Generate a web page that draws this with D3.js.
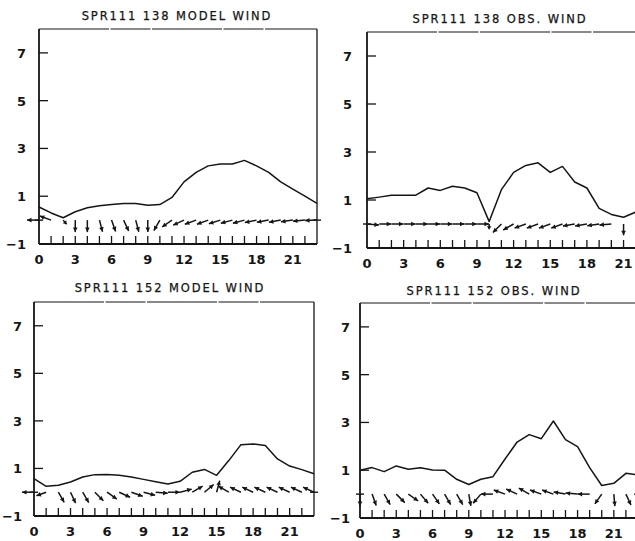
<!DOCTYPE html>
<html>
<head>
<meta charset="utf-8">
<script src="https://cdn.jsdelivr.net/npm/d3@7"></script>
<style>
body { margin: 0; background: #fff; }
text { font-family: "DejaVu Sans", sans-serif; fill: #151515; }
.lbl { font-weight: bold; }
.ttl { font-weight: normal; stroke: #151515; stroke-width: 0.25; }
</style>
</head>
<body>
<svg width="635" height="541"></svg>
<script>
// hourly series, 0..23
var hours = [0,1,2,3,4,5,6,7,8,9,10,11,12,13,14,15,16,17,18,19,20,21,22,23];
var xTicks = [0,3,6,9,12,15,18,21];
var yTicks = [7,5,3,1,-1];
var titles = ["SPR111 138 MODEL WIND", "SPR111 138 OBS. WIND", "SPR111 152 MODEL WIND", "SPR111 152 OBS. WIND"];

// wind speed
var spd138Model = [0.55,0.3,0.1,0.35,0.52,0.6,0.65,0.7,0.7,0.62,0.65,0.95,1.6,2.0,2.27,2.35,2.35,2.5,2.27,2.0,1.6,1.3,1.0,0.7];
var spd138Obs   = [1.05,1.12,1.2,1.2,1.2,1.5,1.4,1.57,1.5,1.3,0.1,1.43,2.15,2.44,2.55,2.15,2.4,1.75,1.5,0.65,0.4,0.28,0.5,0.6];
var spd152Model = [0.57,0.25,0.29,0.43,0.64,0.74,0.75,0.71,0.64,0.54,0.44,0.35,0.46,0.84,0.96,0.71,1.33,2.0,2.03,1.96,1.4,1.1,0.95,0.78];
var spd152Obs   = [1.0,1.11,0.94,1.18,1.04,1.1,1.01,1.0,0.62,0.4,0.62,0.73,1.47,2.18,2.49,2.32,3.06,2.28,1.99,1.11,0.36,0.45,0.87,0.8];

// direction the wind vector points to, degrees clockwise from north
var dir138Model = [270,290,140,180,180,165,160,155,165,180,210,235,245,250,250,252,255,255,258,260,260,262,265,268];
var dir138Obs   = [95,90,90,90,90,90,90,90,90,90,180,225,240,250,250,250,250,260,260,262,265,180,145,150];
var dir152Model = [270,250,150,155,150,135,125,115,110,105,95,90,75,60,50,15,300,295,295,295,295,295,295,295];
var dir152Obs   = [180,160,150,135,125,140,145,150,150,170,220,270,290,295,300,290,290,280,275,270,215,175,155,150];

var panels = [
  {title: titles[0], spd: spd138Model, dir: dir138Model, left: 39,  right: 317, top: 29,  bottom: 244, titleX: 177, titleY: 20,  gap: 13},
  {title: titles[1], spd: spd138Obs,   dir: dir138Obs,   left: 367, right: 648, top: 32,  bottom: 248, titleX: 500, titleY: 23,  gap: 15},
  {title: titles[2], spd: spd152Model, dir: dir152Model, left: 34,  right: 314, top: 302, bottom: 516, titleX: 170, titleY: 292, gap: 12},
  {title: titles[3], spd: spd152Obs,   dir: dir152Obs,   left: 360, right: 638, top: 303, bottom: 518, titleX: 494, titleY: 295, gap: 10}
];

var svg = d3.select('svg');
var ink = '#151515';

var arrowLen = d3.scaleLinear().domain([0, 0.3]).range([2, 12]).clamp(true);

panels.forEach(function(p) {
  var x = d3.scaleLinear().domain([0, 23]).range([p.left, p.right]);
  var y = d3.scaleLinear().domain([-1, 8]).range([p.bottom, p.top]);
  var g = svg.append('g');

  // frame
  g.append('line').attr('x1', p.left).attr('x2', p.right).attr('y1', p.top).attr('y2', p.top)
    .attr('stroke', ink).attr('stroke-width', 1.1).attr('stroke-dasharray', '70,1.5,40,1.5');
  g.append('line').attr('x1', p.right).attr('x2', p.right).attr('y1', p.top).attr('y2', p.bottom)
    .attr('stroke', ink).attr('stroke-width', 1.3);
  g.append('line').attr('x1', p.left).attr('x2', p.right).attr('y1', p.bottom).attr('y2', p.bottom)
    .attr('stroke', ink).attr('stroke-width', 1.8);
  g.append('line').attr('x1', p.left).attr('x2', p.left).attr('y1', p.top).attr('y2', p.bottom)
    .attr('stroke', ink).attr('stroke-width', 1.8);

  // y ticks + labels
  g.selectAll('.yt').data(yTicks.filter(d => d > -1)).enter().append('line')
    .attr('x1', p.left).attr('x2', p.left + 9)
    .attr('y1', d => y(d)).attr('y2', d => y(d))
    .attr('stroke', ink).attr('stroke-width', 1.3);
  g.selectAll('.yl').data(yTicks).enter().append('text')
    .attr('class', 'lbl')
    .attr('x', p.left - p.gap).attr('y', d => y(d) + 5)
    .attr('text-anchor', 'end').attr('font-size', 13)
    .text(d => d < 0 ? '\u2212' + Math.abs(d) : d);

  // zero crossings on both sides
  [p.left, p.right].forEach(function(xx) {
    g.append('line').attr('x1', xx - 4).attr('x2', xx + 4)
      .attr('y1', y(0)).attr('y2', y(0)).attr('stroke', ink).attr('stroke-width', 1.4);
  });

  // hourly ticks on the bottom
  g.selectAll('.ht').data(hours.filter(h => h > 0 && h < 23)).enter().append('line')
    .attr('x1', d => x(d)).attr('x2', d => x(d))
    .attr('y1', p.bottom).attr('y2', p.bottom - 8)
    .attr('stroke', ink).attr('stroke-width', 1.3);

  // x labels
  g.selectAll('.xl').data(xTicks).enter().append('text')
    .attr('class', 'lbl')
    .attr('x', d => x(d)).attr('y', p.bottom + 20)
    .attr('text-anchor', 'middle').attr('font-size', 13)
    .text(d => d);

  // title
  g.append('text').attr('class', 'ttl').attr('x', p.titleX).attr('y', p.titleY)
    .attr('text-anchor', 'middle').attr('font-size', 11.5)
    .attr('letter-spacing', 1.9)
    .text(p.title);

  // speed line
  var line = d3.line().x((d, i) => x(hours[i])).y(d => y(d));
  g.append('path').datum(p.spd).attr('d', line)
    .attr('fill', 'none').attr('stroke', ink).attr('stroke-width', 1.5)
    .attr('stroke-linejoin', 'round');

  // wind vectors from the zero line
  var vec = g.selectAll('.vec').data(hours).enter().append('g');
  vec.each(function(h, i) {
    var a = p.dir[i] * Math.PI / 180;
    var L = arrowLen(p.spd[i]);
    var x0 = x(h), y0 = y(0);
    var x1 = x0 + L * Math.sin(a), y1 = y0 - L * Math.cos(a);
    var s = d3.select(this);
    s.append('line').attr('x1', x0).attr('y1', y0).attr('x2', x1).attr('y2', y1)
      .attr('stroke', ink).attr('stroke-width', 1.5);
    // arrow head
    var hl = Math.min(4.5, L * 0.6), hw = 2.3;
    var bx = x1 - hl * Math.sin(a), by = y1 + hl * Math.cos(a);
    var px = Math.cos(a) * hw, py = Math.sin(a) * hw;
    s.append('path')
      .attr('d', 'M' + x1 + ',' + y1 + 'L' + (bx + px) + ',' + (by + py) + 'L' + (bx - px) + ',' + (by - py) + 'Z')
      .attr('fill', ink);
  });
});
</script>
</body>
</html>
